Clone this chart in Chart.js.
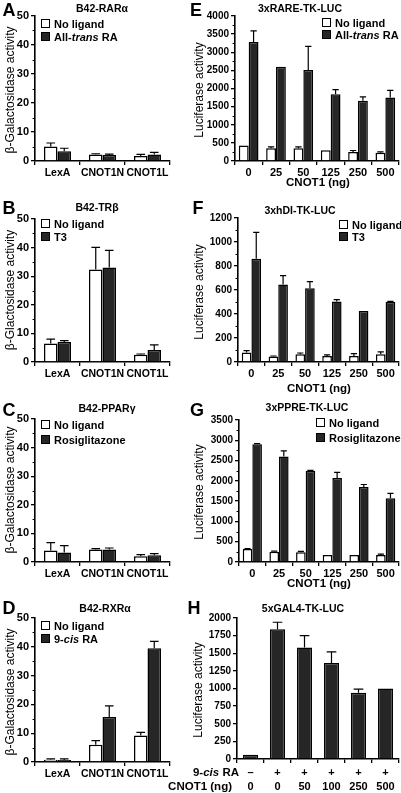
<!DOCTYPE html>
<html>
<head>
<meta charset="utf-8">
<script src="https://cdn.jsdelivr.net/npm/chart.js@4.4.1/dist/chart.umd.min.js"></script>
<style>
body { margin: 0; background: #fff; }
#page { position: relative; width: 401px; height: 793px; overflow: hidden; font-family: "Liberation Sans", Arial, sans-serif; color: #000; }
canvas { position: absolute; }
.txt { position: absolute; white-space: nowrap; font-weight: bold; line-height: 1; }
.letter { font-size: 18px; }
.title { font-size: 10.5px; }
.ytitle { font-size: 12px; font-weight: normal; }
.xtitle { font-size: 11.5px; }
.leg { font-size: 11px; }
.box { position: absolute; width: 7px; height: 7px; border: 1.5px solid #000; }
</style>
</head>
<body>
<div id="page"></div>
<script>
// categories
const constructs = ["LexA", "CNOT1N", "CNOT1L"]
const doses = ["0", "25", "50", "125", "250", "500"]
const hLigand = ["–", "+", "+", "+", "+", "+"]
const hDose = ["0", "0", "50", "100", "250", "500"]

// series names
const aSeries = ["No ligand", "All-<i>trans</i> RA"]
const bSeries = ["No ligand", "T3"]
const cSeries = ["No ligand", "Rosiglitazone"]
const dSeries = ["No ligand", "9-<i>cis</i> RA"]

// A: B42-RARa (mean, sd)
const aNoLig = [5.0, 2.2, 1.7]
const aNoLigSd = [1.2, 0.3, 0.6]
const aRA = [3.4, 2.1, 2.2]
const aRASd = [1.0, 0.3, 0.8]

// B: B42-TRb
const bNoLig = [6.5, 32.3, 2.5]
const bNoLigSd = [1.5, 7.8, 0.3]
const bT3 = [7.0, 33.0, 4.2]
const bT3Sd = [0.5, 6.0, 1.8]

// C: B42-PPARg
const cNoLig = [4.0, 4.4, 2.0]
const cNoLigSd = [2.8, 0.3, 0.6]
const cRosi = [3.3, 4.4, 2.4]
const cRosiSd = [2.4, 0.5, 0.5]

// D: B42-RXRa
const dNoLig = [0.8, 6.0, 9.2]
const dNoLigSd = [0.3, 1.4, 1.1]
const dCis = [0.7, 15.6, 39.5]
const dCisSd = [0.4, 3.9, 2.4]

// E: 3xRARE-TK-LUC
const eNoLig = [430, 350, 350, 300, 250, 230]
const eNoLigSd = [0, 40, 40, 0, 40, 20]
const eRA = [3280, 2600, 2510, 1840, 1660, 1750]
const eRASd = [310, 0, 650, 130, 110, 200]

// F: 3xhDI-TK-LUC
const fNoLig = [80, 45, 65, 50, 50, 65]
const fNoLigSd = [15, 5, 10, 10, 20, 20]
const fT3 = [860, 645, 615, 505, 425, 500]
const fT3Sd = [220, 75, 55, 15, 0, 5]

// G: 3xPPRE-TK-LUC
const gNoLig = [320, 250, 240, 175, 170, 175]
const gNoLigSd = [10, 20, 20, 0, 0, 20]
const gRosi = [2900, 2600, 2240, 2070, 1850, 1570]
const gRosiSd = [20, 140, 20, 140, 60, 120]

// H: 5xGAL4-TK-LUC
const hLuc = [60, 1840, 1580, 1360, 940, 1000]
const hLucSd = [0, 100, 170, 160, 50, 0]

const page = document.getElementById("page")
const DARK = "#262626"

const errorBars = {
    id: "errorBars",
    afterDatasetsDraw(chart) {
        const {ctx} = chart
        const y = chart.scales.y
        ctx.save()
        ctx.strokeStyle = "#000"
        ctx.lineWidth = 1.2
        chart.data.datasets.forEach((ds, i) => {
            chart.getDatasetMeta(i).data.forEach((bar, j) => {
                const sd = ds.errors[j]
                if (!sd) return
                const top = y.getPixelForValue(ds.data[j] + sd)
                const half = bar.width * 0.32
                ctx.beginPath()
                ctx.moveTo(bar.x, bar.y)
                ctx.lineTo(bar.x, top)
                ctx.moveTo(bar.x - half, top)
                ctx.lineTo(bar.x + half, top)
                ctx.stroke()
            })
        })
        ctx.restore()
    }
}

const minorTicks = (step) => ({
    id: "minorTicks",
    afterDraw(chart) {
        if (!step) return
        const {ctx} = chart
        const y = chart.scales.y
        const x0 = chart.chartArea.left
        ctx.save()
        ctx.strokeStyle = "#000"
        ctx.lineWidth = 1
        for (let v = step; v < y.max; v += step * 2) {
            const py = Math.round(y.getPixelForValue(v)) + 0.5
            ctx.beginPath()
            ctx.moveTo(x0 - 2.5, py)
            ctx.lineTo(x0, py)
            ctx.stroke()
        }
        ctx.restore()
    }
})

function axisGrid(offset) {
    return {display: true, drawOnChartArea: false, drawTicks: true, tickLength: 4, color: "#000", lineWidth: 1.3, offset: offset}
}

function panel(p) {
    const cv = document.createElement("canvas")
    cv.width = p.w
    cv.height = p.h
    cv.style.left = p.x + "px"
    cv.style.top = p.y + "px"
    page.appendChild(cv)
    const [l, t, r, b] = p.area
    const datasets = p.series.map((s) => ({
        data: s.data,
        errors: s.sd,
        backgroundColor: s.fill,
        borderColor: "#000",
        borderWidth: 1.5,
        borderSkipped: "bottom",
        barPercentage: p.barPct,
        categoryPercentage: p.catPct
    }))
    new Chart(cv, {
        type: "bar",
        data: {labels: p.labels, datasets: datasets},
        options: {
            responsive: false,
            animation: false,
            devicePixelRatio: 1,
            layout: {padding: {left: 0, top: t, right: p.w - r, bottom: 0}},
            scales: {
                x: {
                    grid: axisGrid(true),
                    border: {display: true, color: "#000", width: 1.6},
                    ticks: {color: "#000", padding: p.xPad || 1, maxRotation: 0, autoSkip: false,
                        font: {family: "Liberation Sans", weight: "bold", size: p.xFont, lineHeight: 1.27}},
                    afterFit: (s) => { s.height = p.h - b }
                },
                y: {
                    min: 0,
                    max: p.max,
                    grid: axisGrid(false),
                    border: {display: true, color: "#000", width: 1.6},
                    ticks: {stepSize: p.step, color: "#000", padding: 2,
                        callback: (value) => `${value}`,
                        font: {family: "Liberation Sans", weight: "bold", size: p.yFont}},
                    afterFit: (s) => { s.width = l }
                }
            },
            plugins: {legend: {display: false}, tooltip: {enabled: false}}
        },
        plugins: [errorBars, minorTicks(p.minor)]
    })
}

function text(html, x, y, cls, align) {
    const el = document.createElement("div")
    el.className = "txt " + cls
    el.innerHTML = html
    el.style.left = x + "px"
    el.style.top = y + "px"
    if (align === "rot") el.style.transform = "translate(-50%,-50%) rotate(-90deg)"
    else if (align === "left") el.style.transform = "translate(0,-50%)"
    else if (align === "right") el.style.transform = "translate(-100%,-50%)"
    else el.style.transform = "translate(-50%,-50%)"
    page.appendChild(el)
}

function legend(names, bx, rows) {
    names.forEach((n, i) => {
        const box = document.createElement("div")
        box.className = "box"
        box.style.left = bx + "px"
        box.style.top = (rows[i] - 5) + "px"
        box.style.background = i === 0 ? "#fff" : DARK
        page.appendChild(box)
        text(n, bx + 13, rows[i], "leg", "left")
    })
}

const pair = (a, aSd, b2, bSd) => [
    {data: a, sd: aSd, fill: "#fff"},
    {data: b2, sd: bSd, fill: DARK}
]

// left column
const left = {w: 200, barPct: 1, catPct: 0.6, xFont: 10.5, yFont: 11, max: 50, step: 10, minor: 5, labels: constructs}
panel({...left, x: 0, y: 0, h: 195, area: [35, 16, 170, 161], series: pair(aNoLig, aNoLigSd, aRA, aRASd)})
panel({...left, x: 0, y: 195, h: 195, area: [35, 24, 170, 167], series: pair(bNoLig, bNoLigSd, bT3, bT3Sd)})
panel({...left, x: 0, y: 390, h: 195, area: [35, 29, 170, 172], series: pair(cNoLig, cNoLigSd, cRosi, cRosiSd)})
panel({...left, x: 0, y: 585, h: 208, area: [35, 33, 170, 177], series: pair(dNoLig, dNoLigSd, dCis, dCisSd)})

// right column
const right = {w: 201, barPct: 1, catPct: 0.72, xFont: 11, yFont: 10, labels: doses}
panel({...right, x: 200, y: 0, h: 195, area: [35, 16, 199, 161], max: 4000, step: 500, minor: 250, series: pair(eNoLig, eNoLigSd, eRA, eRASd)})
panel({...right, x: 200, y: 195, h: 195, area: [38, 23, 199, 167], max: 1200, step: 200, minor: 100, series: pair(fNoLig, fNoLigSd, fT3, fT3Sd)})
panel({...right, x: 200, y: 390, h: 195, area: [39, 30, 199, 172], max: 3500, step: 500, minor: 250, series: pair(gNoLig, gNoLigSd, gRosi, gRosiSd)})
panel({...right, x: 200, y: 585, h: 208, area: [37, 33, 199, 174], max: 2000, step: 250, barPct: 0.56, catPct: 1, xPad: 3,
    labels: hLigand.map((s, i) => [s, hDose[i]]),
    series: [{data: hLuc, sd: hLucSd, fill: DARK}]})

// panel letters and titles
text("A", 9, 10, "letter")
text("B", 9, 208, "letter")
text("C", 9, 410, "letter")
text("D", 9, 608, "letter")
text("E", 196, 10, "letter")
text("F", 198, 208, "letter")
text("G", 197, 410, "letter")
text("H", 194, 608, "letter")

text("B42-RARα", 102, 8, "title")
text("B42-TRβ", 97, 207, "title")
text("B42-PPARγ", 107, 408, "title")
text("B42-RXRα", 105, 608, "title")
text("3xRARE-TK-LUC", 300, 8, "title")
text("3xhDI-TK-LUC", 300, 210, "title")
text("3xPPRE-TK-LUC", 307, 407, "title")
text("5xGAL4-TK-LUC", 303, 608, "title")

// axis titles
text("β-Galactosidase activity", 10, 90, "ytitle", "rot")
text("β-Glactosidase activity", 10, 290, "ytitle", "rot")
text("β-Galactosidase activity", 10, 490, "ytitle", "rot")
text("β-Galactosidase activity", 10, 692, "ytitle", "rot")
text("Luciferase activity", 199, 90, "ytitle", "rot")
text("Luciferase activity", 199, 292, "ytitle", "rot")
text("Luciferase activity", 199, 492, "ytitle", "rot")
text("Luciferase activity", 198, 690, "ytitle", "rot")

text("CNOT1 (ng)", 318, 183, "xtitle")
text("CNOT1 (ng)", 319, 389, "xtitle")
text("CNOT1 (ng)", 319, 584, "xtitle")
text("9-<i>cis</i> RA", 239, 773, "xtitle", "right")
text("CNOT1 (ng)", 232, 787, "xtitle", "right")

// legends
legend(aSeries, 41, [24, 37])
legend(bSeries, 41, [224, 237])
legend(cSeries, 41, [425, 440])
legend(dSeries, 41, [626, 639])
legend(aSeries, 322, [23, 35])
legend(bSeries, 339, [225, 237])
legend(cSeries, 316, [423, 438])
</script>
</body>
</html>
